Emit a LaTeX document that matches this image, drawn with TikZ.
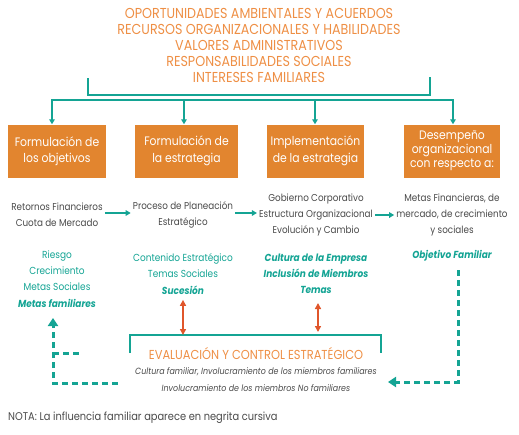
\documentclass[tikz,border=0pt]{standalone}
\usepackage{fontspec}
\setmainfont[FakeStretch=0.88]{Poppins}
\usetikzlibrary{positioning,arrows.meta}
\definecolor{naranja}{HTML}{EE8F45}
\definecolor{cajanar}{HTML}{E2852F}
\definecolor{verde}{HTML}{14A494}
\definecolor{rojo}{HTML}{E0562B}
\definecolor{grisc}{HTML}{4A4A4A}

\begin{document}
\begin{tikzpicture}[x=1pt,y=-1pt,
  caja/.style={fill=cajanar,text=white,minimum height=53pt,align=center,
    inner sep=2pt,font=\fontsize{12.3}{16.5}\selectfont},
  gris/.style={text=grisc,align=center,inner sep=2pt,font=\fontsize{10}{16}\selectfont},
  verd/.style={text=verde,align=center,font=\fontsize{10.2}{16.3}\selectfont},
  linea/.style={draw=verde,line width=2pt},
  flecha/.style={draw=verde,line width=1.8pt,-{Triangle[length=5pt,width=5.5pt]}},
  punteada/.style={draw=verde,line width=3pt,dash pattern=on 6pt off 4pt},
  doble/.style={draw=rojo,line width=1.8pt,{Triangle[length=6pt,width=6pt]}-{Triangle[length=6pt,width=6pt]}}]
  \useasboundingbox (0,0) rectangle (519,434);

  % factores de entrada
  \node[text=naranja,align=center,font=\fontsize{14.4}{16}\selectfont] (top) at (259,45)
    {OPORTUNIDADES AMBIENTALES Y ACUERDOS\\RECURSOS ORGANIZACIONALES Y HABILIDADES\\
     VALORES ADMINISTRATIVOS\\RESPONSABILIDADES SOCIALES\\INTERESES FAMILIARES};
  \draw[linea] (88,78) -- (88,95) -- (430,95) -- (430,77);

  % etapas
  \node[caja,minimum width=98pt] (f1) at (57,151) {Formulación de\\los objetivos};
  \node[caja,minimum width=103pt] (f2) at (186.5,151) {Formulación de\\la estrategia};
  \node[caja,minimum width=97pt] (f3) at (315.5,151) {Implementación\\de la estrategia};
  \node[caja,minimum width=96pt,font=\fontsize{12.3}{14}\selectfont] (f4) at (452,151)
    {Desempeño\\organizacional\\con respecto a:};

  \coordinate (d1) at (52,100);
  \coordinate (d2) at (184,100);
  \coordinate (d3) at (315,100);
  \coordinate (d4) at (453,100);
  \draw[linea] (d1) -- (d4);
  \foreach \d/\f in {d1/f1,d2/f2,d3/f3,d4/f4}
    \draw[flecha] ([yshift=1pt]\d) -- (\d |- \f.north);

  % resultados
  \node[gris] (r1) at (57,215) {Retornos Financieros\\Cuota de Mercado};
  \node[gris] (r2) at (183,215) {Proceso de Planeación\\Estratégico};
  \node[gris] (r3) at (316,215) {Gobierno Corporativo\\Estructura Organizacional\\Evolución y Cambio};
  \node[gris] (r4) at (452,215) {Metas Financieras, de\\mercado, de crecimiento\\y sociales};
  \draw[flecha] ([yshift=2pt]r1.east) -- ([yshift=2pt]r1.east -| r2.west);
  \draw[flecha] ([yshift=2pt]r2.east) -- ([yshift=2pt]r2.east -| r3.west);
  \draw[flecha] (r3.east) -- (r4.west);

  % influencia familiar
  \node[verd] (v1) at (57,279) {Riesgo\\Crecimiento\\Metas Sociales\\{\bfseries\itshape Metas familiares}};
  \node[verd] (v2) at (183,274) {Contenido Estratégico\\Temas Sociales\\{\bfseries\itshape Sucesión}};
  \node[verd,font=\fontsize{10.2}{16}\bfseries\itshape] (v3) at (316,274)
    {Cultura de la Empresa\\Inclusión de Miembros\\Temas};
  \node[verd,font=\fontsize{10.2}{16}\bfseries\itshape] (v4) at (452,256) {Objetivo Familiar};

  % evaluacion y control
  \coordinate (e1) at (130,353);
  \coordinate (e2) at (130,335);
  \coordinate (e3) at (381,335);
  \coordinate (e4) at (381,353);
  \draw[linea] (e1) -- (e2) -- (e3) -- (e4);
  \node[text=naranja,font=\fontsize{13}{15}\selectfont] (ev) at (256,354) {EVALUACIÓN Y CONTROL ESTRATÉGICO};
  \node[text=grisc,font=\fontsize{9}{10}\itshape] (c1) at (256,372)
    {Cultura familiar, Involucramiento de los miembros familiares};
  \node[text=grisc,font=\fontsize{9}{10}\itshape] (c2) at (256,388)
    {Involucramiento de los miembros No familiares};

  \draw[doble,shorten <=2pt] (v2.south) -- (v2.south |- e2);
  \draw[doble] (318,303) -- (318,332);

  % retroalimentacion
  \coordinate (l1) at (118,383);
  \coordinate (l2) at (53,383);
  \coordinate (l3) at (53,353);
  \coordinate (l4) at (80,353);
  \draw[punteada,-{Triangle[length=8pt,width=10pt]}] (l1) -- (l2) -- (53,318);
  \draw[punteada] (l3) -- (l4);
  \coordinate (p1) at (458,270);
  \coordinate (p2) at (458,382);
  \draw[punteada,-{Triangle[length=8pt,width=10pt]}] (p1) -- (p2) -- (388,382);

  \node[text=grisc,anchor=west,font=\fontsize{11.2}{13}\selectfont,inner sep=0pt] (nota) at (8,418)
    {NOTA: La influencia familiar aparece en negrita cursiva};
\end{tikzpicture}
\end{document}
